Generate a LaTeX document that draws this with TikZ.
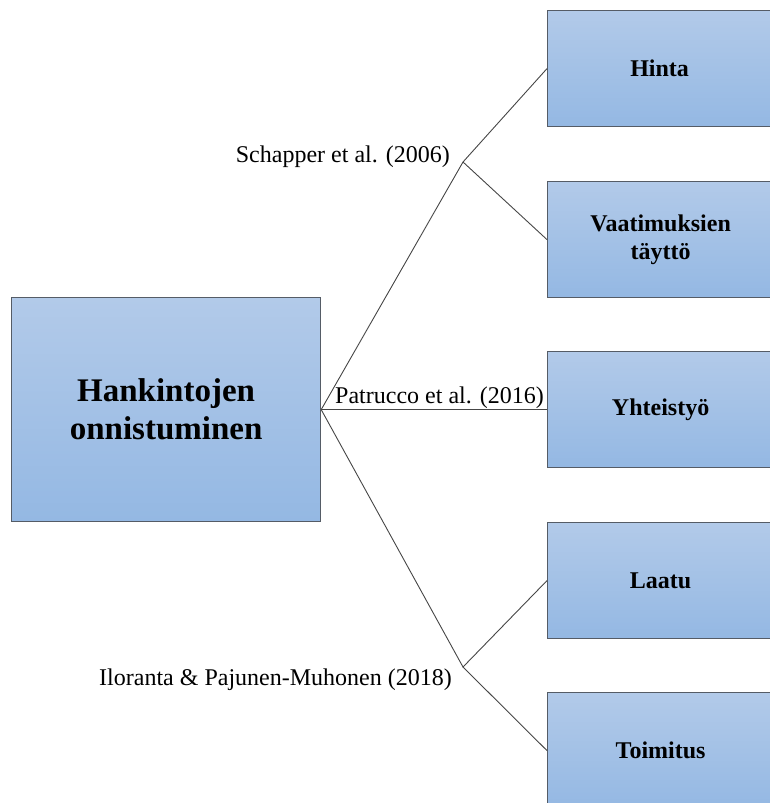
\documentclass[tikz,border=0pt]{standalone}
\usepackage{fontspec}
\setmainfont{Liberation Serif}
\definecolor{boxtop}{RGB}{178,202,233}
\definecolor{boxbot}{RGB}{148,184,227}
\definecolor{boxline}{RGB}{85,92,102}
\definecolor{conn}{RGB}{70,70,70}
\begin{document}
\begin{tikzpicture}[x=1pt,y=-1pt,
  box/.style={rectangle, draw=boxline, line width=1.2pt, top color=boxtop, bottom color=boxbot,
    anchor=north west, inner sep=0pt, align=center, font=\fontsize{24}{28}\selectfont\bfseries},
  smallbox/.style={box, minimum width=226pt, minimum height=116pt},
  lbl/.style={inner sep=0pt, font=\fontsize{24}{28}\selectfont},
  conline/.style={draw=conn, line width=0.9pt}]
\useasboundingbox (0,0) rectangle (770,803);
\node[box, minimum width=309pt, minimum height=224pt, font=\fontsize{33}{38}\selectfont\bfseries] (main) at (11,297) {Hankintojen\\onnistuminen};
\node[smallbox] (hinta) at (547,10) {\hspace*{-2pt}Hinta};
\node[smallbox] (vaat) at (547,181) {Vaatimuksien\\täyttö};
\node[smallbox] (yht) at (547,351) {Yhteistyö};
\node[smallbox] (laatu) at (547,522) {Laatu};
\node[smallbox] (toim) at (547,692) {Toimitus};
\coordinate (j1) at (463,162);
\coordinate (j2) at (463,667);
\draw[conline] (main.east) -- (j1) -- (hinta.west);
\draw[conline] (j1) -- (vaat.west);
\draw[conline] (main.east) -- (yht.west);
\draw[conline] (main.east) -- (j2) -- (laatu.west);
\draw[conline] (j2) -- (toim.west);
\node[lbl, anchor=base east] (l1) at (450,162) {Schapper et al. (2006)};
\node[lbl, anchor=base west] (l2) at (335,403) {Patrucco et al. (2016)};
\node[lbl, anchor=base east] (l3) at (452,685) {Iloranta \& Pajunen-Muhonen (2018)};
\end{tikzpicture}
\end{document}
